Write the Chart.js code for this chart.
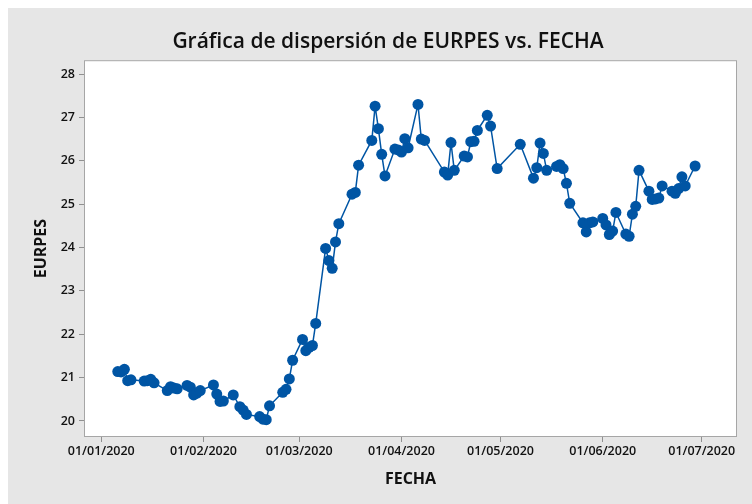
<!DOCTYPE html>
<html>
<head>
<meta charset="utf-8">
<script src="https://cdn.jsdelivr.net/npm/chart.js"></script>
<style>
  html, body { margin: 0; padding: 0; background: #fff; }
  #wrap { position: relative; width: 752px; height: 504px; }
</style>
</head>
<body>
<div id="wrap"><canvas id="myChart" width="752" height="504"></canvas></div>
<script>
// fechas (dd/mm/aaaa) y valores EURPES
const fechas = [
  '06/01/2020', '07/01/2020', '08/01/2020', '09/01/2020', '10/01/2020',
  '14/01/2020', '15/01/2020', '16/01/2020', '17/01/2020',
  '21/01/2020', '22/01/2020', '23/01/2020', '24/01/2020',
  '27/01/2020', '28/01/2020', '29/01/2020', '30/01/2020', '31/01/2020',
  '04/02/2020', '05/02/2020', '06/02/2020', '07/02/2020',
  '10/02/2020', '12/02/2020', '13/02/2020', '14/02/2020',
  '18/02/2020', '19/02/2020', '20/02/2020', '21/02/2020',
  '25/02/2020', '26/02/2020', '27/02/2020', '28/02/2020',
  '02/03/2020', '03/03/2020', '04/03/2020', '05/03/2020', '06/03/2020',
  '09/03/2020', '10/03/2020', '11/03/2020', '12/03/2020', '13/03/2020',
  '17/03/2020', '18/03/2020', '19/03/2020',
  '23/03/2020', '24/03/2020', '25/03/2020', '26/03/2020', '27/03/2020',
  '30/03/2020', '31/03/2020', '01/04/2020', '02/04/2020', '03/04/2020',
  '06/04/2020', '07/04/2020', '08/04/2020',
  '14/04/2020', '15/04/2020', '16/04/2020', '17/04/2020',
  '20/04/2020', '21/04/2020', '22/04/2020', '23/04/2020', '24/04/2020',
  '27/04/2020', '28/04/2020', '30/04/2020',
  '07/05/2020',
  '11/05/2020', '12/05/2020', '13/05/2020', '14/05/2020', '15/05/2020',
  '18/05/2020', '19/05/2020', '20/05/2020', '21/05/2020', '22/05/2020',
  '26/05/2020', '27/05/2020', '28/05/2020', '29/05/2020',
  '01/06/2020', '02/06/2020', '03/06/2020', '04/06/2020', '05/06/2020',
  '08/06/2020', '09/06/2020', '10/06/2020', '11/06/2020', '12/06/2020',
  '15/06/2020', '16/06/2020', '17/06/2020', '18/06/2020', '19/06/2020',
  '22/06/2020', '23/06/2020', '24/06/2020', '25/06/2020', '26/06/2020',
  '29/06/2020'
];
const eurpes = [
  21.14, 21.13, 21.19, 20.93, 20.95,
  20.92, 20.93, 20.96, 20.88,
  20.70, 20.79, 20.76, 20.74,
  20.82, 20.78, 20.60, 20.64, 20.70,
  20.83, 20.62, 20.45, 20.46,
  20.60, 20.33, 20.25, 20.15,
  20.10, 20.04, 20.03, 20.35,
  20.66, 20.73, 20.97, 21.40,
  21.88, 21.62, 21.70, 21.74, 22.25,
  23.98, 23.70, 23.52, 24.13, 24.55,
  25.23, 25.27, 25.90,
  26.47, 27.26, 26.74, 26.15, 25.65,
  26.27, 26.25, 26.20, 26.51, 26.30,
  27.30, 26.50, 26.47,
  25.74, 25.67, 26.42, 25.78,
  26.11, 26.09, 26.44, 26.45, 26.70,
  27.05, 26.80, 25.82,
  26.38,
  25.60, 25.84, 26.41, 26.17, 25.78,
  25.87, 25.91, 25.82, 25.48, 25.02,
  24.57, 24.36, 24.57, 24.59,
  24.67, 24.52, 24.30, 24.38, 24.81,
  24.31, 24.26, 24.77, 24.95, 25.78,
  25.30, 25.11, 25.12, 25.14, 25.42,
  25.30, 25.25, 25.36, 25.63, 25.42,
  25.88
];
const xTickLabels = ['01/01/2020', '01/02/2020', '01/03/2020', '01/04/2020', '01/05/2020', '01/06/2020', '01/07/2020'];
const yTicks = [20, 21, 22, 23, 24, 25, 26, 27, 28];

// dias desde el 01/01/2020
function toDay(s) {
  const p = s.split('/');
  return (Date.UTC(+p[2], +p[1] - 1, +p[0]) - Date.UTC(2020, 0, 1)) / 86400000;
}

const puntos = fechas.map((f, i) => ({ x: toDay(f), y: eurpes[i] }));
const azul = '#0055a4';
const fuente = 'Open Sans';

const fondo = {
  id: 'fondo',
  beforeDraw(chart) {
    const ctx = chart.ctx;
    const a = chart.chartArea;
    ctx.save();
    ctx.fillStyle = '#e6e6e6';
    ctx.fillRect(8, 8, chart.width - 8, chart.height - 8);
    ctx.fillStyle = '#ffffff';
    ctx.fillRect(a.left, a.top, a.right - a.left, a.bottom - a.top);
    ctx.strokeStyle = '#a6a6a6';
    ctx.lineWidth = 1;
    ctx.strokeRect(a.left + 0.5, a.top + 0.5, a.right - a.left - 1, a.bottom - a.top - 1);
    ctx.restore();
  }
};

let myChart = new Chart('myChart', {
  type: 'scatter',
  data: {
    datasets: [{
      data: puntos,
      showLine: true,
      borderColor: azul,
      borderWidth: 1.5,
      backgroundColor: azul,
      pointRadius: 5.5,
      pointBorderWidth: 0,
      pointHoverRadius: 5.5
    }]
  },
  options: {
    responsive: false,
    animation: false,
    layout: { padding: { left: 24, right: 0, top: 0, bottom: 0 } },
    plugins: {
      legend: { display: false },
      tooltip: { enabled: false },
      title: {
        display: true,
        text: 'Gráfica de dispersión de EURPES vs. FECHA',
        color: '#111111',
        font: { family: fuente, size: 21, weight: '600', lineHeight: 1.2 },
        padding: { top: 29, bottom: 6 }
      }
    },
    scales: {
      x: {
        type: 'linear',
        min: -5.24,
        max: 192.7,
        afterBuildTicks: s => { s.ticks = xTickLabels.map(l => ({ value: toDay(l) })); },
        afterFit: s => { s.height = 67; },
        ticks: {
          callback: v => xTickLabels.find(l => toDay(l) === v) || '',
          color: '#111111',
          font: { family: fuente, size: 12.5, weight: '600' },
          maxRotation: 0,
          autoSkip: false,
          padding: 2
        },
        grid: { drawOnChartArea: false, tickLength: 5, color: '#909090' },
        border: { display: false },
        title: {
          display: true,
          text: 'FECHA',
          color: '#111111',
          font: { family: fuente, size: 16, weight: 'bold', lineHeight: 1.2 },
          padding: { top: 0, bottom: 15 }
        }
      },
      y: {
        type: 'linear',
        position: 'left',
        min: 19.63,
        max: 28.32,
        afterBuildTicks: s => { s.ticks = yTicks.map(v => ({ value: v })); },
        afterFit: s => { s.width = 60; },
        ticks: {
          color: '#111111',
          font: { family: fuente, size: 12.5, weight: '600' },
          padding: 4
        },
        grid: { drawOnChartArea: false, tickLength: 5, color: '#909090' },
        border: { display: false },
        title: {
          display: true,
          text: 'EURPES',
          color: '#111111',
          font: { family: fuente, size: 16, weight: 'bold', lineHeight: 1.2 },
          padding: { top: 8, bottom: 0 }
        }
      },
      y2: {
        type: 'linear',
        position: 'right',
        display: true,
        afterFit: s => { s.width = 15; },
        ticks: { display: false },
        grid: { display: false },
        border: { display: false }
      }
    }
  },
  plugins: [fondo]
});
</script>
</body>
</html>
